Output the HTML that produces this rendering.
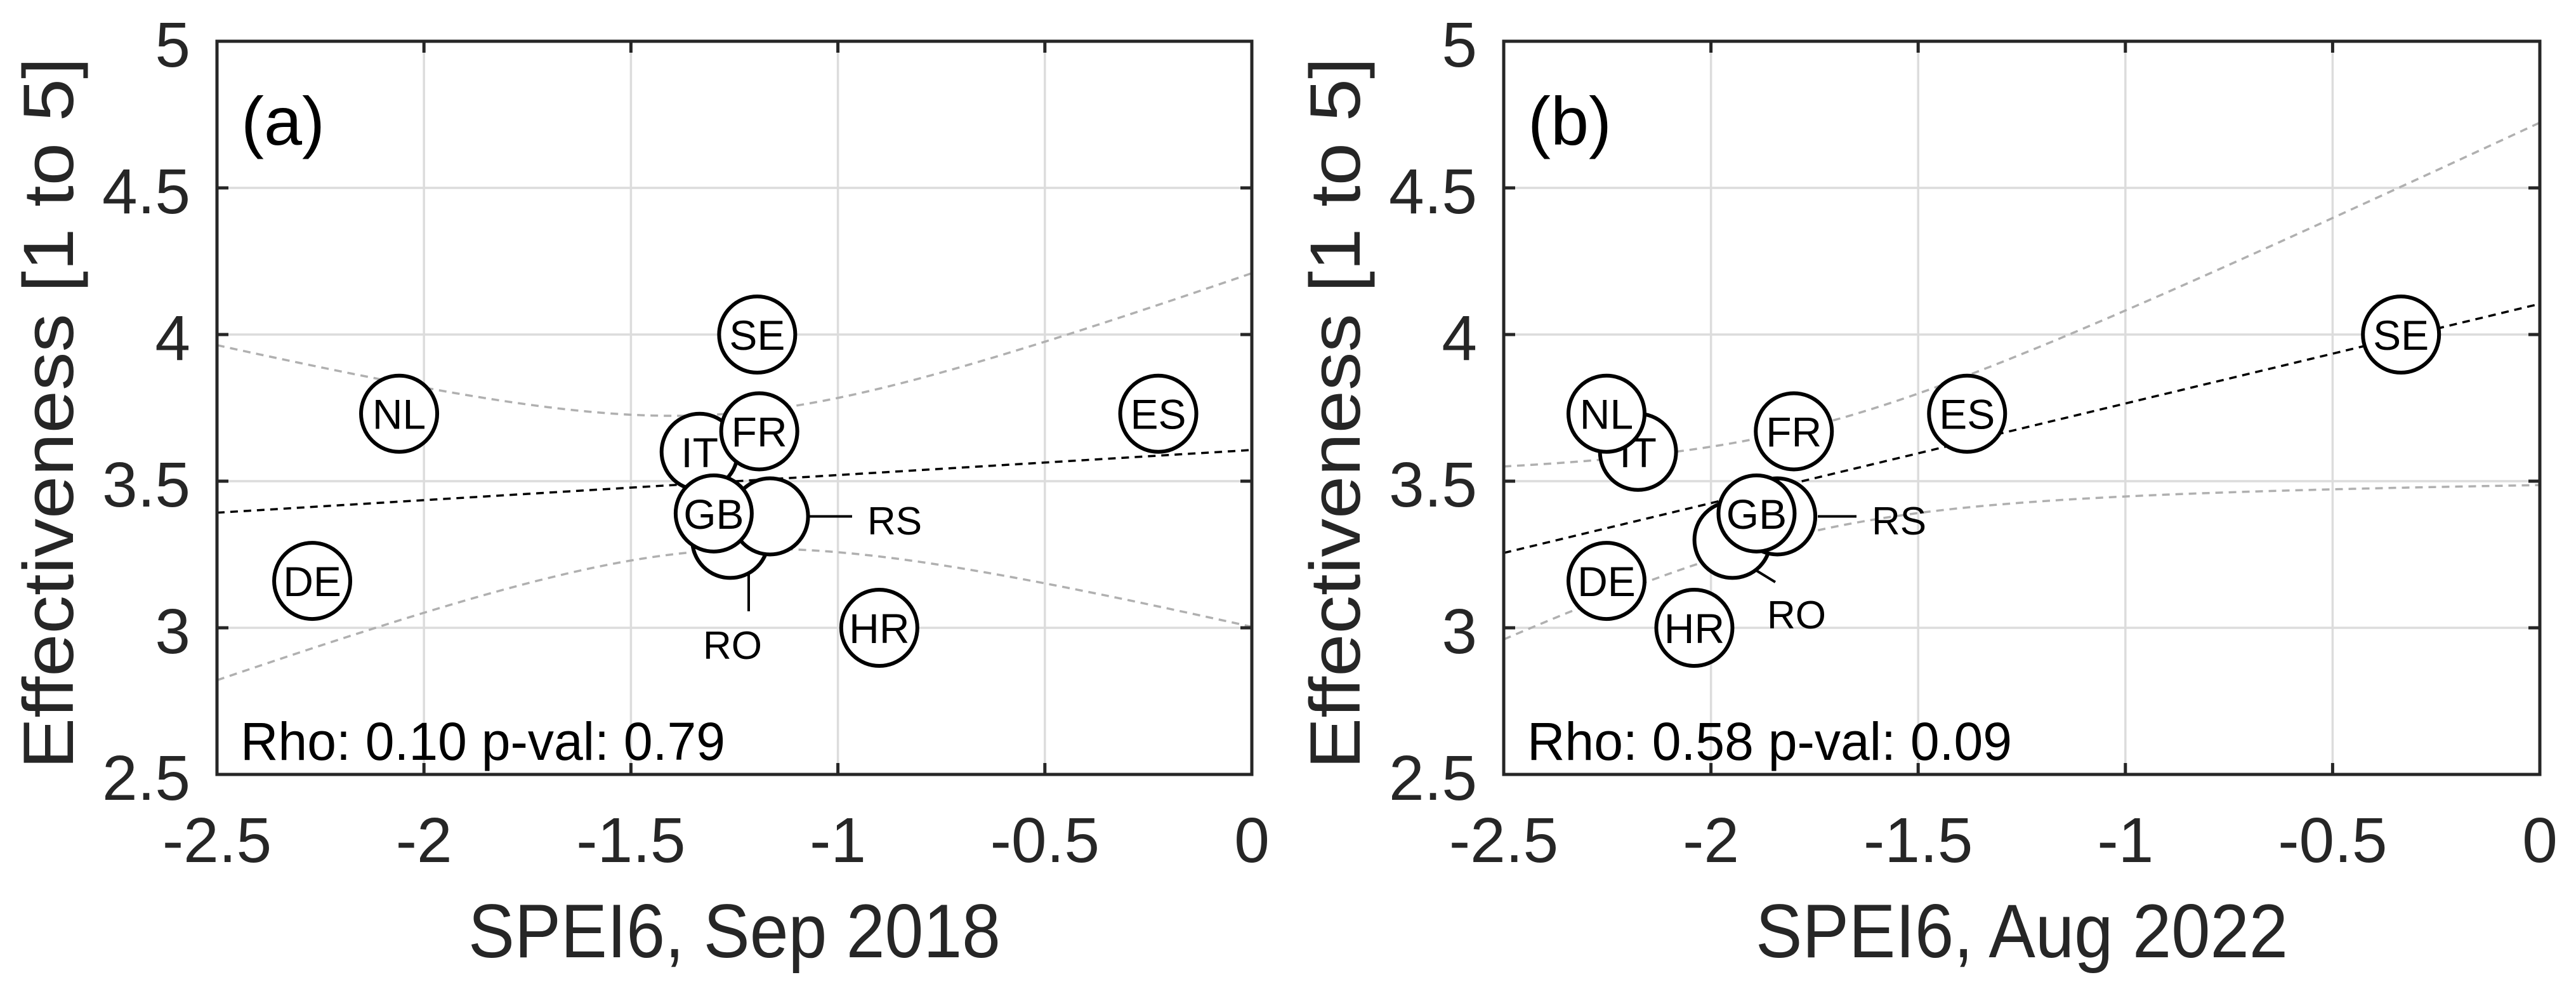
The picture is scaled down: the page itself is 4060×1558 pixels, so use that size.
<!DOCTYPE html>
<html><head><meta charset="utf-8"><style>
html,body{margin:0;padding:0;background:#fff;}
svg{display:block;}
text{font-family:"Liberation Sans",Arial,sans-serif;}
</style></head><body>
<svg id="fig" width="4060" height="1558" viewBox="0 0 4060 1558" xmlns="http://www.w3.org/2000/svg"></svg>
<script>
const countries = ["RO","RS","IT","GB","FR","NL","SE","ES","DE","HR"];
const effectiveness = [3.30,3.38,3.60,3.39,3.67,3.73,4.00,3.73,3.16,3.00];
const spei2018 = [-1.26,-1.164,-1.334,-1.30,-1.19,-2.06,-1.195,-0.226,-2.27,-0.90];
const spei2022 = [-1.948,-1.84,-2.176,-1.89,-1.80,-2.252,-0.335,-1.382,-2.252,-2.04];
const xTicks = [-2.5,-2,-1.5,-1,-0.5,0];
const yTicks = [2.5,3,3.5,4,4.5,5];
const xTickLabels = ["-2.5","-2","-1.5","-1","-0.5","0"];
const yTickLabels = ["2.5","3","3.5","4","4.5","5"];
const panelLetters = ["(a)","(b)"];
const xTitles = ["SPEI6, Sep 2018","SPEI6, Aug 2022"];
const statTexts = ["Rho: 0.10 p-val: 0.79","Rho: 0.58 p-val: 0.09"];

const NS="http://www.w3.org/2000/svg";
const svg=document.getElementById('fig');
function mk(tag,attrs,parent){const e=document.createElementNS(NS,tag);for(const k in attrs)e.setAttribute(k,attrs[k]);(parent||svg).appendChild(e);return e;}

const panels=[
 {x0:342,x1:1973,xs:spei2018,off:0,
  rs:{line:[1241,1343],lx:1367,ly:842},ro:{line:[1180,873,1180,963],lx:1108,ly:1038}},
 {x0:2370,x1:4003,xs:spei2022,off:2028,
  rs:{line:[2865,2926],lx:2950,ly:842},ro:{line:[2762,895,2798,917],lx:2785,ly:990}}
];
const Y0=1220,Y1=65;

panels.forEach((p,pi)=>{
  const g=mk('g',{});
  
  
  const sx=v=>p.x0+(v-(-2.5))/2.5*(p.x1-p.x0);
  const sy=v=>Y0-(v-2.5)/2.5*(Y0-Y1);
  xTicks.forEach(t=>{const l=mk('line',{x1:sx(t),x2:sx(t),y1:Y1,y2:Y0,stroke:'#dcdcdc','stroke-width':3.5},g);
    });
  yTicks.forEach(t=>{const l=mk('line',{x1:p.x0,x2:p.x1,y1:sy(t),y2:sy(t),stroke:'#dcdcdc','stroke-width':3.5},g);
    });
  const xs=p.xs,ys=effectiveness,n=xs.length;
  const mx=xs.reduce((a,b)=>a+b)/n,my=ys.reduce((a,b)=>a+b)/n;
  let sxx=0,sxy=0;for(let i=0;i<n;i++){sxx+=(xs[i]-mx)**2;sxy+=(xs[i]-mx)*(ys[i]-my);}
  const b=sxy/sxx,a=my-b*mx;
  let sse=0;for(let i=0;i<n;i++){sse+=(ys[i]-a-b*xs[i])**2;}
  const s=Math.sqrt(sse/(n-2)),tv=2.306;
  const fit=[],up=[],lo=[];
  for(let k=0;k<=100;k++){const x=-2.5+2.5*k/100;const yh=a+b*x;const h=tv*s*Math.sqrt(1/n+(x-mx)**2/sxx);
    fit.push(sx(x)+','+sy(yh));up.push(sx(x)+','+sy(yh+h));lo.push(sx(x)+','+sy(yh-h));}
  const clip='clip'+pi;
  const cp=mk('clipPath',{id:clip},g);mk('rect',{x:p.x0,y:Y1,width:p.x1-p.x0,height:Y0-Y1},cp);
  [[up,'upper-confidence-band','#b0b0b0'],[lo,'lower-confidence-band','#b0b0b0'],[fit,'regression-line','#000']].forEach(([pts,nm,c])=>{
    const pl=mk('polyline',{points:pts.join(' '),fill:'none',stroke:c,'stroke-width':3.5,'stroke-dasharray':'12,9','clip-path':'url(#'+clip+')'},g);
    });
  const l1=mk('line',{x1:p.rs.line[0],x2:p.rs.line[1],y1:sy(effectiveness[1]),y2:sy(effectiveness[1]),stroke:'#000','stroke-width':4},g);
  
  const r=p.ro.line;
  const l2=mk('line',{x1:r[0],y1:r[1],x2:r[2],y2:r[3],stroke:'#000','stroke-width':4},g);
  
  const order=pi===0?[0,1,2,3,4,5,6,7,8,9]:[0,1,3,2,5,4,6,7,8,9];
  order.forEach(i=>{
    const pg=mk('g',{},g);
    
    
    const cx=sx(xs[i]),cy=sy(ys[i]);
    mk('circle',{cx:cx,cy:cy,r:60,fill:'#fff',stroke:'#000','stroke-width':6},pg);
    if(countries[i]!=='RS'&&countries[i]!=='RO'){
      const t=mk('text',{x:cx,y:cy+24,'text-anchor':'middle','font-size':66,fill:'#000'},pg);t.textContent=countries[i];}
  });
  const t1=mk('text',{x:p.rs.lx,y:p.rs.ly,'font-size':62,fill:'#000'},g);t1.textContent='RS';
  
  const t2=mk('text',{x:p.ro.lx,y:p.ro.ly,'font-size':62,fill:'#000'},g);t2.textContent='RO';
  
  const bx=mk('rect',{x:p.x0,y:Y1,width:p.x1-p.x0,height:Y0-Y1,fill:'none',stroke:'#262626','stroke-width':5},g);
  
  xTicks.forEach((t,i)=>{
    mk('line',{x1:sx(t),x2:sx(t),y1:Y0,y2:Y0-18,stroke:'#262626','stroke-width':5},g);
    mk('line',{x1:sx(t),x2:sx(t),y1:Y1,y2:Y1+18,stroke:'#262626','stroke-width':5},g);
    const tl=mk('text',{x:sx(t),y:1358,'text-anchor':'middle','font-size':100,fill:'#262626'},g);
    tl.textContent=xTickLabels[i];
    
  });
  yTicks.forEach((t,i)=>{
    mk('line',{x1:p.x0,x2:p.x0+18,y1:sy(t),y2:sy(t),stroke:'#262626','stroke-width':5},g);
    mk('line',{x1:p.x1,x2:p.x1-18,y1:sy(t),y2:sy(t),stroke:'#262626','stroke-width':5},g);
    const tl=mk('text',{x:300+p.off,y:sy(t)+40,'text-anchor':'end','font-size':100,fill:'#262626'},g);
    tl.textContent=yTickLabels[i];
    
  });
  const xt=mk('text',{x:(p.x0+p.x1)/2,y:1508,'text-anchor':'middle','font-size':120,fill:'#262626',textLength:839,lengthAdjust:'spacingAndGlyphs'},g);
  xt.textContent=xTitles[pi];
  
  const yt=mk('text',{x:0,y:0,'text-anchor':'middle','font-size':112,fill:'#262626',textLength:1121,lengthAdjust:'spacingAndGlyphs',transform:'translate('+(115+p.off)+',651) rotate(-90)'},g);
  yt.textContent='Effectiveness [1 to 5]';
  
  const pl=mk('text',{x:p.x0+38,y:228,'font-size':108,fill:'#000'},g);
  pl.textContent=panelLetters[pi];
  
  const st=mk('text',{x:p.x0+37,y:1197,'font-size':84,fill:'#000',textLength:764,lengthAdjust:'spacingAndGlyphs'},g);
  st.textContent=statTexts[pi];
  
});
</script>
</body></html>
